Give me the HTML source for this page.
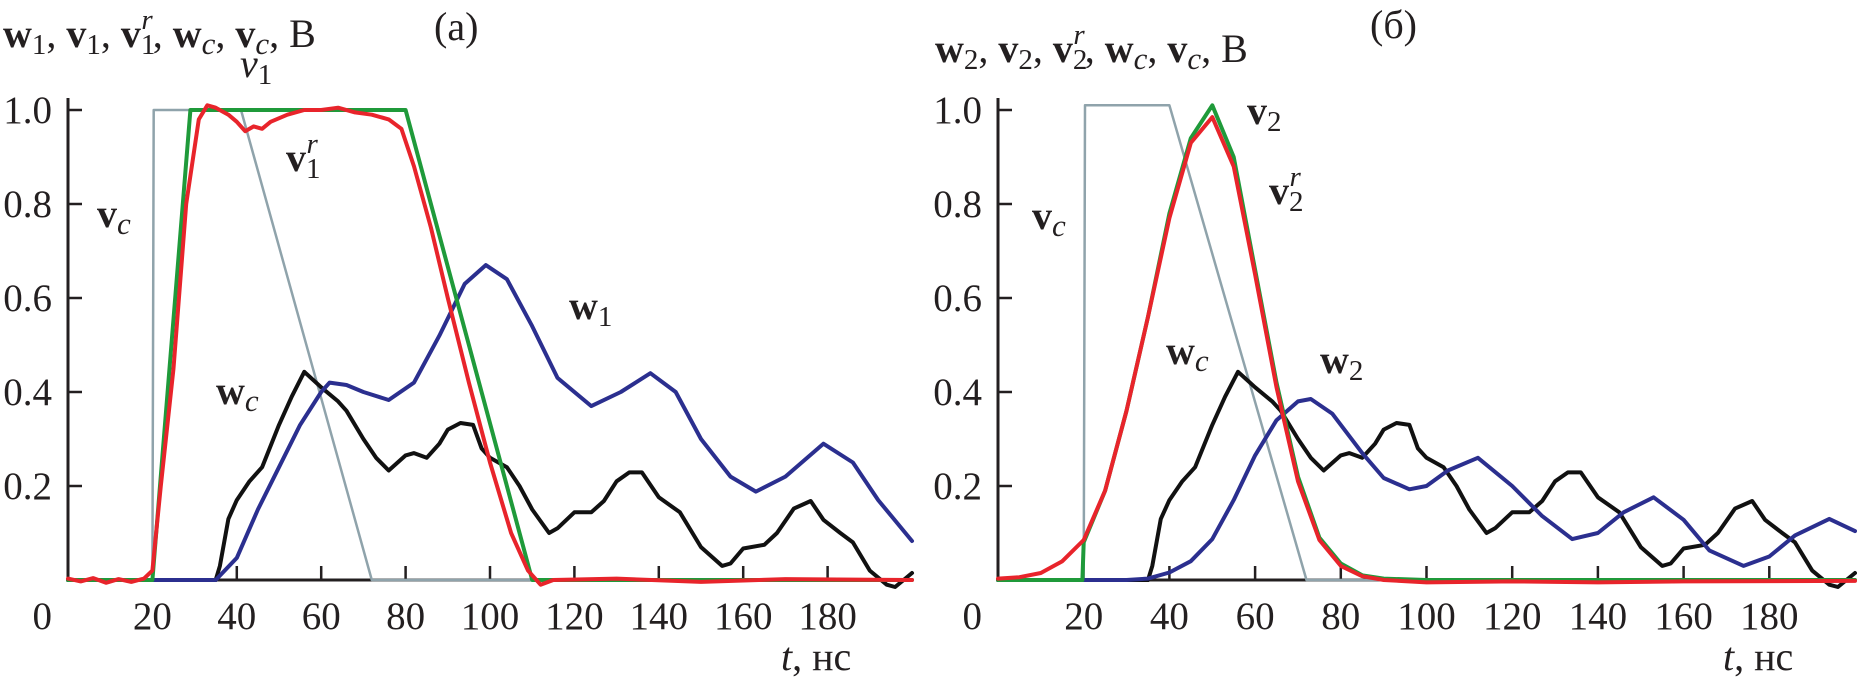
<!DOCTYPE html>
<html><head><meta charset="utf-8"><style>
html,body{margin:0;padding:0;background:#fff}
svg{display:block}
text{font-family:"Liberation Serif",serif;fill:#231f20}
.tk{font-size:39px}
.lb{font-size:40px;font-weight:bold}
.it{font-style:italic;font-weight:normal}
</style></head><body>
<svg id="chart" width="1857" height="685" viewBox="0 0 1857 685">
<g id="pa"></g>
<g id="pb"></g>
<text x="3" y="47" class="lb">w<tspan font-weight="normal" font-size="29" dy="7">1</tspan><tspan dy="-7" font-weight="normal">, </tspan>v<tspan font-weight="normal" font-size="29" dy="7">1</tspan><tspan dy="-7" font-weight="normal">, </tspan>v<tspan font-weight="normal" font-size="29" dy="7">1</tspan><tspan class="it" font-size="29" dx="-14" dy="-25">r</tspan><tspan dy="18" font-weight="normal">, </tspan>w<tspan class="it" font-size="31" dy="7">c</tspan><tspan dy="-7" font-weight="normal">, </tspan>v<tspan class="it" font-size="31" dy="7">c</tspan><tspan dy="-7" font-weight="normal">, B</tspan></text>
<text x="434" y="40" style="font-size:40px">(a)</text>
<text x="240" y="77" style="font-size:40px;font-style:italic">v<tspan font-size="29" font-style="normal" dy="7">1</tspan></text>
<text x="286" y="171" class="lb">v<tspan font-weight="normal" font-size="29" dy="7">1</tspan><tspan class="it" font-size="29" dx="-14" dy="-25">r</tspan></text>
<text x="97" y="227" class="lb">v<tspan class="it" font-size="31" dy="7">c</tspan></text>
<text x="569" y="319" class="lb">w<tspan font-weight="normal" font-size="29" dy="7">1</tspan></text>
<text x="216" y="404" class="lb">w<tspan class="it" font-size="31" dy="7">c</tspan></text>
<text x="781" y="670" style="font-size:40px"><tspan font-style="italic">t</tspan>, нс</text>
<text x="935" y="62" class="lb">w<tspan font-weight="normal" font-size="29" dy="7">2</tspan><tspan dy="-7" font-weight="normal">, </tspan>v<tspan font-weight="normal" font-size="29" dy="7">2</tspan><tspan dy="-7" font-weight="normal">, </tspan>v<tspan font-weight="normal" font-size="29" dy="7">2</tspan><tspan class="it" font-size="29" dx="-14" dy="-25">r</tspan><tspan dy="18" font-weight="normal">, </tspan>w<tspan class="it" font-size="31" dy="7">c</tspan><tspan dy="-7" font-weight="normal">, </tspan>v<tspan class="it" font-size="31" dy="7">c</tspan><tspan dy="-7" font-weight="normal">, B</tspan></text>
<text x="1370" y="38" style="font-size:40px">(б)</text>
<text x="1247" y="124" class="lb">v<tspan font-weight="normal" font-size="29" dy="7">2</tspan></text>
<text x="1269" y="204" class="lb">v<tspan font-weight="normal" font-size="29" dy="7">2</tspan><tspan class="it" font-size="29" dx="-14" dy="-25">r</tspan></text>
<text x="1032" y="229" class="lb">v<tspan class="it" font-size="31" dy="7">c</tspan></text>
<text x="1166" y="364" class="lb">w<tspan class="it" font-size="31" dy="7">c</tspan></text>
<text x="1320" y="373" class="lb">w<tspan font-weight="normal" font-size="29" dy="7">2</tspan></text>
<text x="1723" y="670" style="font-size:40px"><tspan font-style="italic">t</tspan>, нс</text>
</svg>
<script>
var NS="http://www.w3.org/2000/svg";
var xTicks=[20,40,60,80,100,120,140,160,180];
var yTicks=[0.2,0.4,0.6,0.8,1.0];
var yTickLabels=["0.2","0.4","0.6","0.8","1.0"];
var wcT=[0,35,36,38,40,43,46,50,53,56,60,64,66,70,73,76,80,82,85,88,90,93,96,98,100,104,107,110,114,116,120,124,127,130,133,136,140,145,150,155,157,160,165,168,172,176,179,183,186,190,194,196,198,200];
var wcV=[0,0,0.03,0.13,0.17,0.21,0.24,0.33,0.39,0.443,0.41,0.38,0.36,0.30,0.26,0.233,0.265,0.27,0.26,0.29,0.32,0.334,0.33,0.28,0.26,0.24,0.2,0.15,0.10,0.11,0.144,0.144,0.168,0.21,0.229,0.229,0.176,0.144,0.07,0.03,0.035,0.067,0.075,0.1,0.152,0.168,0.128,0.1,0.08,0.02,-0.01,-0.015,0,0.015];
var vcAT=[0,20,20.3,41,72,200];
var vcAV=[0,0,1,1,0,0];
var v1T=[0,20,29,80,110,200];
var v1V=[0,0,1,1,0,0];
var v1rT=[0,3,6,9,12,15,18,20,22,25,28,31,33,35,38,40,42,44,46,48,52,56,60,64,68,72,76,79,82,86,90,95,100,105,109,112,115,130,150,170,200];
var v1rV=[0.003,-0.003,0.004,-0.006,0.002,-0.004,0.003,0.02,0.2,0.45,0.8,0.98,1.01,1.005,0.99,0.975,0.955,0.965,0.96,0.975,0.99,1.0,1.0,1.005,0.995,0.99,0.98,0.96,0.88,0.75,0.6,0.42,0.25,0.1,0.02,-0.01,0,0.003,-0.004,0.002,0];
var w1T=[0,35,40,45,50,55,60,62,66,70,76,82,88,94,99,104,110,116,124,131,138,144,150,157,163,170,179,186,192,200];
var w1V=[0,0,0.047,0.15,0.24,0.33,0.40,0.42,0.415,0.40,0.383,0.42,0.52,0.63,0.67,0.64,0.54,0.43,0.37,0.40,0.44,0.40,0.30,0.22,0.188,0.22,0.29,0.25,0.17,0.083];
var vcBT=[0,20,20.3,40,72,200];
var vcBV=[0,0,1.01,1.01,0,0];
var v2T=[0,19.7,20,25,30,35,40,45,50,55,60,65,70,75,80,85,90,100,200];
var v2V=[0,0,0.08,0.19,0.36,0.56,0.78,0.94,1.01,0.90,0.66,0.42,0.22,0.09,0.035,0.01,0.003,0,0];
var v2rT=[0,5,10,15,20,25,30,35,40,45,50,55,60,65,70,75,80,85,90,100,120,140,160,200];
var v2rV=[0.003,0.006,0.015,0.04,0.085,0.19,0.36,0.56,0.77,0.93,0.985,0.88,0.65,0.41,0.21,0.085,0.03,0.008,0.0,-0.005,-0.003,-0.005,-0.003,-0.002];
var w2T=[0,30,35,40,45,50,55,60,65,70,73,78,85,90,96,100,105,112,120,127,134,140,146,153,160,166,174,180,186,194,200];
var w2V=[0,0,0.003,0.016,0.04,0.087,0.17,0.265,0.34,0.38,0.385,0.354,0.27,0.217,0.193,0.2,0.233,0.26,0.2,0.136,0.087,0.1,0.144,0.176,0.128,0.063,0.03,0.05,0.095,0.13,0.104];

function mk(tag,attrs,parent){var e=document.createElementNS(NS,tag);for(var k in attrs)e.setAttribute(k,attrs[k]);parent.appendChild(e);return e;}
function panel(g,x0,pxPerNs){
  var yS=function(v){return 580-470*v;};
  var xS=function(t){return x0+pxPerNs*t;};
  var ax=mk('path',{d:'M'+x0+' 98 V580 H'+xS(200),stroke:'#231f20','stroke-width':3,fill:'none'},g);
  
  
  yTicks.forEach(function(v,i){
    var tk=mk('line',{x1:x0,x2:x0+14,y1:yS(v),y2:yS(v),stroke:'#231f20','stroke-width':2.5},g);
    
    
    var tl=mk('text',{x:x0-16,y:yS(v)+13,'text-anchor':'end','class':'tk'},g);
    tl.textContent=yTickLabels[i];
    
    
  });
  var z=mk('text',{x:x0-16,y:629,'text-anchor':'end','class':'tk'},g);z.textContent='0';
  
  
  xTicks.forEach(function(t){
    var tk=mk('line',{x1:xS(t),x2:xS(t),y1:580,y2:566,stroke:'#231f20','stroke-width':2.5},g);
    
    
    var tl=mk('text',{x:xS(t),y:629,'text-anchor':'middle','class':'tk'},g);
    tl.textContent=String(t);
    
    
  });
  return {xS:xS,yS:yS};
}
function series(g,s,T,V,color,w,name){
  var d='';
  for(var i=0;i<T.length;i++){d+=(i?'L':'M')+s.xS(T[i]).toFixed(1)+' '+s.yS(V[i]).toFixed(1);}
  var p=mk('path',{d:d,stroke:color,'stroke-width':w,fill:'none','stroke-linejoin':'round','stroke-linecap':'round'},g);
  
  
}
var ga=document.getElementById('pa'),gb=document.getElementById('pb');
var sa=panel(ga,68,4.22);
series(ga,sa,vcAT,vcAV,'#8fa3ab',2.5,'vc-line-a');
series(ga,sa,wcT,wcV,'#111',4,'wc-line-a');
series(ga,sa,w1T,w1V,'#2b2f8f',4,'w1-line');
series(ga,sa,v1T,v1V,'#1f9a3a',4,'v1-line');
series(ga,sa,v1rT,v1rV,'#e8242b',4,'v1r-line');
var sb=panel(gb,998,4.285);
series(gb,sb,vcBT,vcBV,'#8fa3ab',2.5,'vc-line-b');
series(gb,sb,wcT,wcV,'#111',4,'wc-line-b');
series(gb,sb,w2T,w2V,'#2b2f8f',4,'w2-line');
series(gb,sb,v2T,v2V,'#1f9a3a',4,'v2-line');
series(gb,sb,v2rT,v2rV,'#e8242b',4,'v2r-line');
</script>
</body></html>
